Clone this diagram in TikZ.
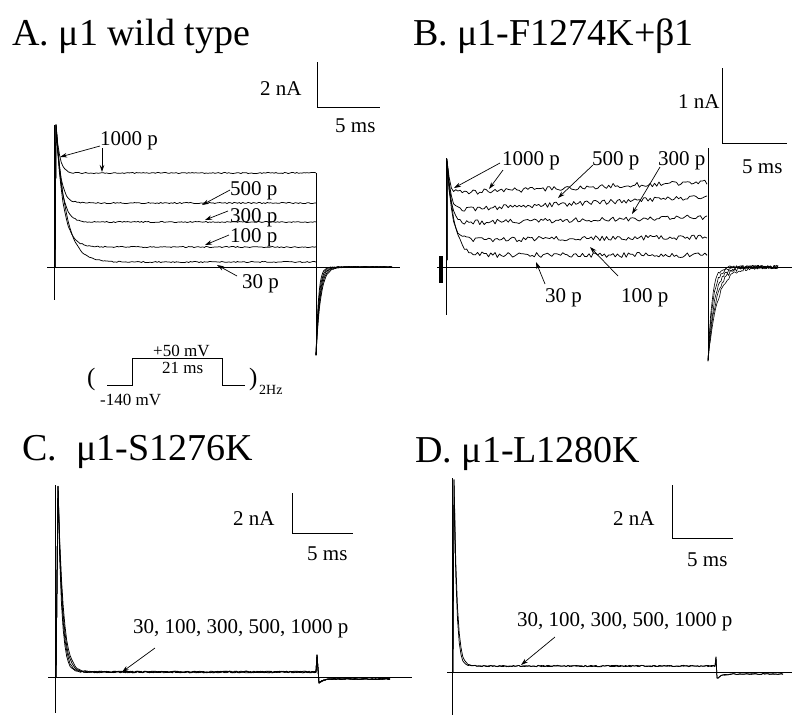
\documentclass[tikz,border=0pt]{standalone}
\usepackage{fontspec}
\setmainfont{Liberation Serif}
\usetikzlibrary{arrows.meta}
\begin{document}
\begin{tikzpicture}[x=1pt,y=-1pt,
  ax/.style={line width=1pt},
  trace/.style={line width=0.75pt,line join=round},
  arr/.style={-{Stealth[length=7pt,width=4.5pt]},line width=0.7pt},
  ttl/.style={anchor=base west,inner sep=0pt,font=\fontsize{38}{40}\selectfont},
  lbl/.style={anchor=base west,inner sep=0pt,font=\fontsize{21}{24}\selectfont},
  prl/.style={anchor=base west,inner sep=0pt,font=\fontsize{17}{19}\selectfont}]
\useasboundingbox (0,0) rectangle (792,716);
\pgfmathsetseed{12345}

% ---------------- Panel A ----------------
\node[ttl] (tA) at (12,45) {A. μ1 wild type};
\coordinate (sAt) at (317,62); \coordinate (sAc) at (317,107); \coordinate (sAr) at (380,107);
\draw[ax] (sAt) -- (sAc) -- (sAr);
\node[lbl] (nA) at (260,95) {2 nA};
\node[lbl] (mA) at (335,132) {5 ms};
\coordinate (bAl) at (47,267); \coordinate (bAr) at (400,267);
\draw[ax] (bAl) -- (bAr);
\coordinate (vAt) at (54,125); \coordinate (vAb) at (54,300);
\draw[ax] (vAt) -- (vAb);
\foreach \L/\tau in {173/3.5,203/4.5,222/5.5,247/7,262/10}{
  \draw[trace] (55,267) -- plot[domain=56:316,samples=150,variable=\x] (\x,{\L-(\L-125)*exp(-(\x-56)/\tau)+0.6*rand});
}
\coordinate (eAt) at (316,173); \coordinate (eAb) at (316,355);
\draw[trace] (eAt) -- (eAb);
\foreach \tau in {2.5,3,3.5,4,4.5}{
  \draw[trace] plot[domain=316:392,samples=70,variable=\x] (\x,{267+88*exp(-(\x-316)/\tau)+0.5*rand});
}
\node[lbl] (pA1000) at (100,145) {1000 p};
\node[lbl] (pA500) at (230,195) {500 p};
\node[lbl] (pA300) at (230,222) {300 p};
\node[lbl] (pA100) at (230,242) {100 p};
\node[lbl] (pA30) at (242,288) {30 p};
\coordinate (a1s) at (100,146); \coordinate (a1e) at (60,157);
\coordinate (a2s) at (102,148); \coordinate (a2e) at (102,172);
\coordinate (a3s) at (230,190); \coordinate (a3e) at (202,205);
\coordinate (a4s) at (228,211); \coordinate (a4e) at (205,220);
\coordinate (a5s) at (229,235); \coordinate (a5e) at (205,245);
\coordinate (a6s) at (237,276); \coordinate (a6e) at (217,265);
\foreach \i in {1,...,6}{\draw[arr] (a\i s) -- (a\i e);}

% protocol
\coordinate (p0) at (107,385); \coordinate (p1) at (132,385); \coordinate (p2) at (132,358);
\coordinate (p3) at (222,358); \coordinate (p4) at (222,385); \coordinate (p5) at (245,385);
\draw[line width=0.9pt] (p0) -- (p1) -- (p2) -- (p3) -- (p4) -- (p5);
\node[anchor=base west,inner sep=0pt,font=\fontsize{25}{27}\selectfont] (parL) at (87,385) {(};
\node[anchor=base west,inner sep=0pt,font=\fontsize{25}{27}\selectfont] (parR) at (249,385) {)};
\node[anchor=base west,inner sep=0pt,font=\fontsize{14}{16}\selectfont] (hz) at (259,394) {2Hz};
\node[prl] (v50) at (153,356) {+50 mV};
\node[prl] (t21) at (162,373) {21 ms};
\node[prl] (v140) at (100,405) {-140 mV};

% ---------------- Panel B ----------------
\node[ttl] (tB) at (413,45) {B. μ1-F1274K+β1};
\coordinate (sBt) at (722,68); \coordinate (sBc) at (722,143); \coordinate (sBr) at (787,143);
\draw[ax] (sBt) -- (sBc) -- (sBr);
\node[lbl] (nB) at (678,108) {1 nA};
\node[lbl] (mB) at (742,173) {5 ms};
\coordinate (bBl) at (437,267); \coordinate (bBr) at (792,267);
\draw[ax] (bBl) -- (bBr);
\coordinate (vBt) at (446,158); \coordinate (vBb) at (446,315);
\draw[ax] (vBt) -- (vBb);
\draw[line width=3.5pt] (441,256) -- (441,283);
\foreach \La/\Lb/\tau in {193/182/2.5,210/197/3,223/217/3.5,240/237/4.5,255/255/7}{
  \draw[trace] (447,260) -- plot[domain=447:707,samples=120,variable=\x] (\x,{\La+(\Lb-\La)*(\x-447)/260+(160-\La)*exp(-(\x-447)/\tau)+2.5*rand});
}
\coordinate (eBt) at (708,148); \coordinate (eBb) at (708,360);
\draw[trace] (eBt) -- (eBb);
\foreach \tau in {4,5,6.5,8,9.5}{
  \draw[trace,line width=0.6pt] plot[domain=708:778,samples=55,variable=\x] (\x,{267+93*exp(-(\x-708)/\tau)+1.8*rand});
}
\node[lbl] (pB1000) at (502,165) {1000 p};
\node[lbl] (pB500) at (592,165) {500 p};
\node[lbl] (pB300) at (658,165) {300 p};
\node[lbl] (pB30) at (545,302) {30 p};
\node[lbl] (pB100) at (621,302) {100 p};
\coordinate (b1s) at (500,163); \coordinate (b1e) at (454,188);
\coordinate (b2s) at (503,170); \coordinate (b2e) at (489,189);
\coordinate (b3s) at (593,165); \coordinate (b3e) at (558,198);
\coordinate (b4s) at (660,167); \coordinate (b4e) at (632,214);
\coordinate (b5s) at (545,284); \coordinate (b5e) at (536,262);
\coordinate (b6s) at (618,276); \coordinate (b6e) at (590,247);
\foreach \i in {1,...,6}{\draw[arr] (b\i s) -- (b\i e);}

% ---------------- Panel C ----------------
\node[ttl] (tC) at (22,460) {C.\ \ μ1-S1276K};
\coordinate (sCt) at (292,493); \coordinate (sCc) at (292,533); \coordinate (sCr) at (353,533);
\draw[ax] (sCt) -- (sCc) -- (sCr);
\node[lbl] (nC) at (233,525) {2 nA};
\node[lbl] (mC) at (307,560) {5 ms};
\coordinate (bCl) at (48,677); \coordinate (bCr) at (412,677);
\draw[ax] (bCl) -- (bCr);
\coordinate (vCt) at (55,485); \coordinate (vCb) at (55,713);
\draw[ax] (vCt) -- (vCb);
\foreach \tau in {3.5,4,4.5,5}{
  \draw[trace] (56,677) -- plot[domain=58:316,samples=150,variable=\x] (\x,{672-185*exp(-(\x-58)/\tau)+0.9*rand})
    -- (317,655) -- (319,683) -- plot[domain=320:390,samples=40,variable=\x] (\x,{679+3*exp(-(\x-320)/4)+0.6*rand});
}
\node[lbl] (pC) at (133,633) {30, 100, 300, 500, 1000 p};
\coordinate (c1s) at (155,648); \coordinate (c1e) at (122,672);
\draw[arr] (c1s) -- (c1e);

% ---------------- Panel D ----------------
\node[ttl] (tD) at (415,462) {D. μ1-L1280K};
\coordinate (sDt) at (672,485); \coordinate (sDc) at (672,538); \coordinate (sDr) at (733,538);
\draw[ax] (sDt) -- (sDc) -- (sDr);
\node[lbl] (nD) at (613,525) {2 nA};
\node[lbl] (mD) at (687,566) {5 ms};
\coordinate (bDl) at (447,672); \coordinate (bDr) at (792,672);
\draw[ax] (bDl) -- (bDr);
\coordinate (vDt) at (452,478); \coordinate (vDb) at (452,715);
\draw[ax] (vDt) -- (vDb);
\foreach \tau in {2.5,3}{
  \draw[trace] (453,672) -- plot[domain=454:715,samples=150,variable=\x] (\x,{666-186*exp(-(\x-454)/\tau)+0.7*rand})
    -- (716,657) -- (717,678) -- plot[domain=718:783,samples=40,variable=\x] (\x,{674+4*exp(-(\x-718)/4)+0.5*rand});
}
\node[lbl] (pD) at (517,626) {30, 100, 300, 500, 1000 p};
\coordinate (d1s) at (555,637); \coordinate (d1e) at (521,665);
\draw[arr] (d1s) -- (d1e);
\end{tikzpicture}
\end{document}
